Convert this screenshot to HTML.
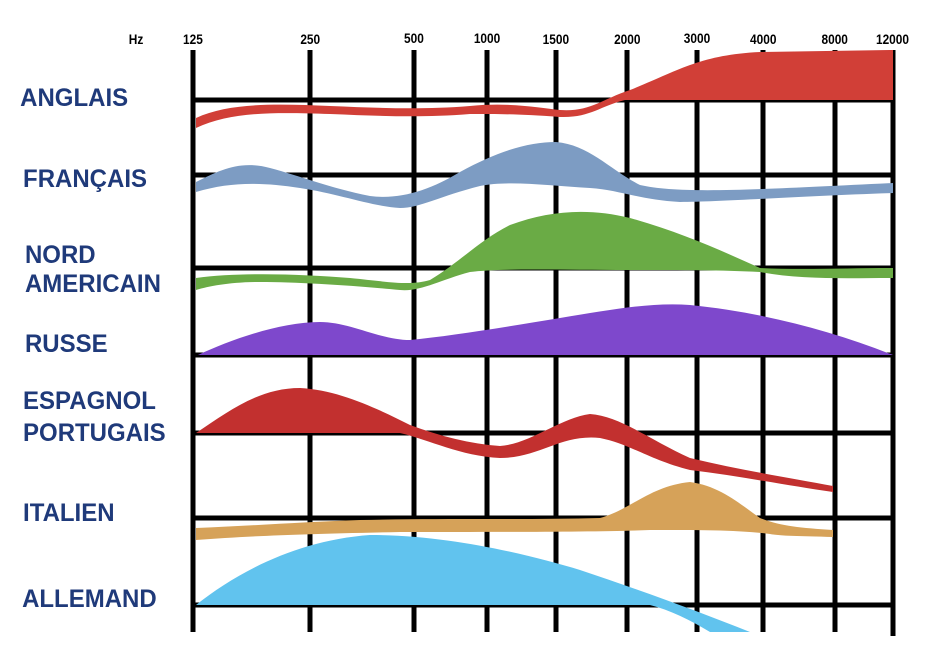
<!DOCTYPE html>
<html><head><style>
body{margin:0;background:#fff;width:950px;height:654px;overflow:hidden}
svg text{font-family:"Liberation Sans",sans-serif;font-weight:bold}
</style></head><body>
<svg width="950" height="654" viewBox="0 0 950 654">
<g font-size="14" fill="#000" text-anchor="middle" transform="scale(0.85,1)">
<text x="160" y="44">Hz</text>
<text x="227" y="44">125</text>
<text x="365" y="44">250</text>
<text x="487" y="43">500</text>
<text x="573" y="43">1000</text>
<text x="654" y="44">1500</text>
<text x="738" y="44">2000</text>
<text x="820" y="43">3000</text>
<text x="898" y="44">4000</text>
<text x="982" y="44">8000</text>
<text x="1050" y="44">12000</text>
</g>
<g stroke="#000" stroke-width="5">
<line x1="193" y1="50" x2="193" y2="632"/>
<line x1="310" y1="50" x2="310" y2="632"/>
<line x1="414" y1="50" x2="414" y2="632"/>
<line x1="487" y1="50" x2="487" y2="632"/>
<line x1="556" y1="50" x2="556" y2="632"/>
<line x1="627" y1="50" x2="627" y2="632"/>
<line x1="697" y1="50" x2="697" y2="632"/>
<line x1="763" y1="50" x2="763" y2="632"/>
<line x1="835" y1="50" x2="835" y2="632"/>
<line x1="893" y1="50" x2="893" y2="636"/>
<line x1="193" y1="100" x2="893" y2="100"/>
<line x1="193" y1="175" x2="893" y2="175"/>
<line x1="193" y1="268" x2="893" y2="268"/>
<line x1="193" y1="355" x2="893" y2="355"/>
<line x1="193" y1="433" x2="893" y2="433"/>
<line x1="193" y1="518" x2="893" y2="518"/>
<line x1="193" y1="605" x2="893" y2="605"/>
</g>
<path d="M196,118 C230,102 280,104 330,106 C380,108 420,110 470,106 C510,102 540,108 560,110 C590,112 600,100 630,90 C680,70 700,55 760,52 L893,50 L893,100 L625,100 C600,106 590,118 560,117 C520,114 500,114 470,114 C420,118 380,116 330,114 C270,112 230,112 196,128 Z" fill="#d13f37"/>
<path d="M196,182 C220,170 240,160 270,168 C300,176 330,188 370,196 C400,200 430,190 460,172 C500,150 530,142 556,142 C590,145 610,170 640,185 C680,194 750,190 893,183 L893,193 C800,196 720,202 680,202 C640,200 620,190 590,188 C550,186 510,180 480,186 C440,196 420,208 400,208 C370,206 340,194 300,188 C260,182 230,182 196,192 Z" fill="#7d9cc3"/>
<path d="M196,278 C240,272 300,274 350,278 C390,282 410,286 430,280 C460,262 480,240 510,225 C550,210 590,208 630,218 C680,232 720,250 760,268 C800,270 850,268 893,268 L893,278 C850,278 800,280 760,272 C720,270 680,270 630,270 C560,270 500,268 470,272 C440,280 420,292 400,290 C360,286 300,282 260,282 C230,282 210,286 196,290 Z" fill="#6aab45"/>
<path d="M198,355 C230,340 280,322 320,322 C350,322 380,340 410,340 C450,336 500,328 560,318 C610,310 650,302 690,305 C760,312 830,330 893,355 Z" fill="#7e48cc"/>
<path d="M196,433 C230,410 260,388 300,388 C340,390 380,410 410,425 C440,436 470,444 500,446 C530,444 560,418 590,414 C620,416 650,440 690,458 C740,470 790,478 833,486 L833,492 C790,486 740,476 690,470 C650,460 630,444 600,438 C560,434 540,458 500,458 C460,456 430,440 400,433 Z" fill="#c2302f"/>
<path d="M196,528 C250,526 300,522 360,520 C450,518 530,520 600,518 C630,510 650,486 690,482 C720,486 740,504 760,518 C780,526 800,528 833,530 L833,537 C800,536 780,536 770,534 C740,530 700,530 650,530 C600,532 500,532 400,532 C300,534 250,536 196,540 Z" fill="#d6a259"/>
<path d="M196,605 C240,570 300,540 370,535 C450,535 530,555 580,570 C640,590 700,612 750,632 L710,632 C690,620 670,610 650,605 Z" fill="#61c3ee"/>
<g fill="#1f3a7a" font-size="25" transform="scale(0.96,1)">
<text x="21" y="106">ANGLAIS</text>
<text x="24" y="187">FRANÇAIS</text>
<text x="26" y="263">NORD</text>
<text x="26" y="292">AMERICAIN</text>
<text x="26" y="352">RUSSE</text>
<text x="24" y="409">ESPAGNOL</text>
<text x="24" y="441">PORTUGAIS</text>
<text x="24" y="521">ITALIEN</text>
<text x="23" y="607">ALLEMAND</text>
</g>
</svg>
</body></html>
